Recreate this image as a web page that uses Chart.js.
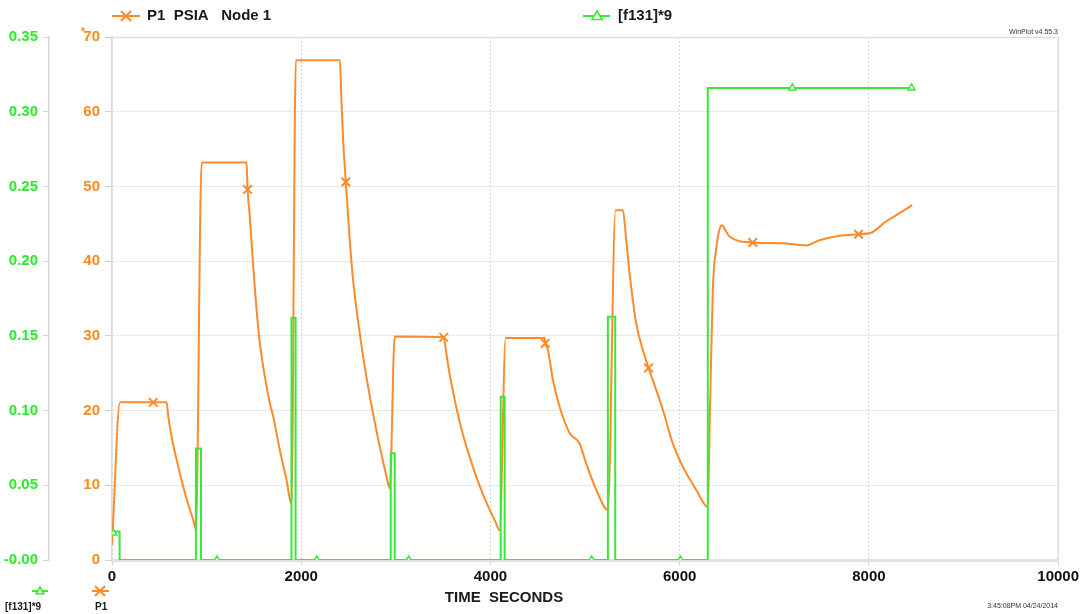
<!DOCTYPE html>
<html>
<head>
<meta charset="utf-8">
<title>P1 PSIA Node 1</title>
<script src="https://cdn.jsdelivr.net/npm/chart.js@4.4.1/dist/chart.umd.min.js"></script>
<style>
  html, body { margin: 0; padding: 0; background: #ffffff; }
  #wrap { width: 1082px; height: 614px; position: relative; }
</style>
</head>
<body>
<div id="wrap"><canvas id="c" width="1082" height="614"></canvas></div>
<script>
// ---- P1 pressure, node 1 (psia) ----
const p1Time = [
  0, 85, 436, 577, 595, 630, 683, 753, 824, 860, 887,
  947, 1422, 1433, 1457, 1492, 1528, 1563, 1616, 1668, 1704, 1774, 1845, 1897,
  1943, 2408, 2425, 2443, 2471, 2513, 2548, 2619, 2689, 2759, 2830, 2901, 2936,
  2988, 3506, 3530, 3560, 3600, 3650, 3700, 3780, 3860, 3940, 4000, 4050, 4097,
  4161, 4572, 4580, 4607, 4660, 4731, 4836, 4942, 5012, 5118, 5241,
  5322, 5400, 5435, 5470, 5540, 5611, 5671, 5751, 5822, 5927, 6033, 6174, 6297,
  6320, 6350, 6390, 6420, 6449, 6480, 6526, 6772, 7089, 7335, 7476, 7687, 7891,
  8022, 8180, 8321, 8458
];
const p1Psia = [
  2.0, 21.1, 21.1, 21.1, 19.2, 16.5, 13.4, 9.8, 6.7, 5.3, 4.1,
  53.2, 53.2, 49.6, 45.9, 39.3, 33.5, 29.0, 24.5, 21.0, 19.2, 14.7, 10.7, 7.4,
  66.9, 66.9, 61.6, 56.2, 50.6, 42.8, 37.5, 30.3, 24.5, 19.6, 15.2, 11.2, 9.6,
  29.9, 29.8, 28.0, 25.5, 22.8, 19.8, 17.2, 13.8, 10.8, 8.2, 6.5, 5.2, 4.0,
  29.7, 29.7, 29.0, 28.1, 24.1, 20.5, 17.0, 15.6, 12.9, 9.4, 6.7,
  46.8, 46.8, 42.8, 38.4, 31.7, 28.1, 25.7, 22.8, 20.1, 15.6, 12.5, 9.4, 7.1,
  20.0, 36.1, 42.0, 44.2, 44.8, 44.2, 43.3, 42.5, 42.4, 42.1, 42.8, 43.4, 43.6,
  43.8, 45.3, 46.4, 47.5
];
const p1MarkTimes = [436, 1433, 2471, 3506, 4580, 5671, 6772, 7891];

// ---- [f131]*9 ----
const f131Time = [
  0, 15, 25, 80, 80, 887, 887, 940, 940, 1109,
  1897, 1897, 1940, 1940, 2165, 2946, 2946, 2988, 2988, 3136,
  4108, 4108, 4150, 4150, 5069, 5241, 5241, 5319, 5319, 6008,
  6297, 6297, 7191, 8450
];
const f131Val = [
  0.016, 0.018, 0.019, 0.019, 0, 0, 0.0747, 0.0747, 0, 0,
  0, 0.1622, 0.1622, 0, 0, 0, 0.0714, 0.0714, 0, 0,
  0, 0.1093, 0.1093, 0, 0, 0, 0.1628, 0.1628, 0, 0,
  0, 0.3159, 0.3159, 0.3159
];
const f131MarkTimes = [15, 1109, 2165, 3136, 5069, 6008, 7191, 8450];

// ---- axis ticks ----
const timeTicks = [0, 2000, 4000, 6000, 8000, 10000];
const psiaTicks = [0, 10, 20, 30, 40, 50, 60, 70];
const f131Ticks = [0, 0.05, 0.10, 0.15, 0.20, 0.25, 0.30, 0.35];

const ORANGE = '#ff8a2a';
const ORANGE_TXT = '#ff8a1c';
const GREEN = '#38e838';
const GREEN_TXT = '#2aec2a';
const FONT = '"Liberation Sans", Arial, sans-serif';
const GRID = '#d6d6d6';

const toPoints = (xs, ys) => xs.map((x, i) => ({ x: x, y: ys[i] }));
const p1Marks = new Set(p1MarkTimes);
const f131Marks = new Set(f131MarkTimes);

function drawCross(ctx, x, y, r, color) {
  ctx.save();
  ctx.strokeStyle = color; ctx.lineWidth = 2;
  ctx.beginPath();
  ctx.moveTo(x - r, y - r); ctx.lineTo(x + r, y + r);
  ctx.moveTo(x - r, y + r); ctx.lineTo(x + r, y - r);
  ctx.stroke();
  ctx.restore();
}
function drawTri(ctx, x, y, r, color) {
  ctx.save();
  ctx.strokeStyle = color; ctx.fillStyle = '#ffffff'; ctx.lineWidth = 1.5;
  ctx.beginPath();
  ctx.moveTo(x, y - r); ctx.lineTo(x + r, y + r * 0.7); ctx.lineTo(x - r, y + r * 0.7);
  ctx.closePath(); ctx.fill(); ctx.stroke();
  ctx.restore();
}
function legendLine(ctx, x1, x2, y, color) {
  ctx.save();
  ctx.strokeStyle = color; ctx.lineWidth = 2;
  ctx.beginPath(); ctx.moveTo(x1, y); ctx.lineTo(x2, y); ctx.stroke();
  ctx.restore();
}

// frame, legends and stamps
const decor = {
  id: 'decor',
  beforeDatasetsDraw(chart) {
    const { ctx, chartArea: a } = chart;
    ctx.save();
    ctx.strokeStyle = '#dedede';
    ctx.lineWidth = 1.5;
    ctx.beginPath();
    ctx.moveTo(a.left, a.top + 0.5);
    ctx.lineTo(a.right, a.top + 0.5);
    ctx.moveTo(a.right, a.top);
    ctx.lineTo(a.right, a.bottom);
    ctx.stroke();
    ctx.restore();
  },
  afterDraw(chart) {
    const { ctx } = chart;
    const ds = chart.data.datasets;
    ctx.save();
    ctx.textBaseline = 'middle';

    // top legend
    legendLine(ctx, 112, 140, 16, ORANGE);
    drawCross(ctx, 126, 16, 5, ORANGE);
    ctx.fillStyle = '#1a1a1a';
    ctx.font = 'bold 15px ' + FONT;
    ctx.textAlign = 'left';
    ctx.fillText(ds[0].label, 147, 16);

    legendLine(ctx, 583, 610, 16, GREEN);
    drawTri(ctx, 597, 16, 5, GREEN);
    ctx.fillStyle = '#1a1a1a';
    ctx.fillText(ds[1].label, 618, 16);

    // bottom key
    legendLine(ctx, 32, 48, 591, GREEN);
    drawTri(ctx, 40, 591, 4, GREEN);
    legendLine(ctx, 92, 109, 591, ORANGE);
    drawCross(ctx, 100, 591, 5, ORANGE);
    ctx.fillStyle = '#1a1a1a';
    ctx.font = 'bold 10px ' + FONT;
    ctx.fillText('[f131]*9', 5, 607);
    ctx.fillText('P1', 95, 607);

    // axis title
    ctx.font = 'bold 15px ' + FONT;
    ctx.textAlign = 'center';
    ctx.fillText('TIME  SECONDS', 504, 598);

    // asterisk on the top pressure tick
    ctx.fillStyle = ORANGE_TXT;
    ctx.font = 'bold 11px ' + FONT;
    ctx.textAlign = 'right';
    ctx.fillText('*', 85, 32);

    // stamps
    ctx.fillStyle = '#333333';
    ctx.font = '7px ' + FONT;
    ctx.textAlign = 'right';
    ctx.fillText('WinPlot v4.55.3', 1058, 32);
    ctx.fillText('3:45:08PM 04/24/2014', 1058, 606);
    ctx.restore();
  }
};

new Chart(document.getElementById('c'), {
  type: 'line',
  data: {
    datasets: [
      {
        label: 'P1  PSIA   Node 1',
        data: toPoints(p1Time, p1Psia),
        yAxisID: 'yP',
        borderColor: ORANGE,
        borderWidth: 2,
        cubicInterpolationMode: 'monotone',
        pointStyle: 'crossRot',
        pointRadius: ctx => (p1Marks.has(ctx.raw && ctx.raw.x) ? 6 : 0),
        pointBorderColor: ORANGE,
        pointBorderWidth: 2,
        pointHoverRadius: 0,
        order: 1
      },
      {
        label: '[f131]*9',
        data: toPoints(f131Time, f131Val),
        yAxisID: 'yF',
        borderColor: GREEN,
        borderWidth: 2,
        tension: 0,
        pointStyle: 'triangle',
        pointRadius: ctx => (f131Marks.has(ctx.raw && ctx.raw.x) ? 4 : 0),
        pointBorderColor: GREEN,
        pointBackgroundColor: '#ffffff',
        pointBorderWidth: 1.5,
        pointHoverRadius: 0,
        order: 0
      }
    ]
  },
  options: {
    responsive: false,
    animation: false,
    devicePixelRatio: 1,
    events: [],
    layout: { padding: { top: 37, right: 23, bottom: 0, left: 0 } },
    plugins: { legend: { display: false }, tooltip: { enabled: false } },
    scales: {
      x: {
        type: 'linear',
        min: 0, max: 10000,
        afterBuildTicks: s => { s.ticks = timeTicks.map(v => ({ value: v })); },
        afterFit: s => { s.height = 54; },
        ticks: {
          color: '#111111',
          font: { family: FONT, size: 15, weight: 'bold' },
          padding: 3,
          maxRotation: 0,
          autoSkip: false,
          callback: v => String(v)
        },
        grid: { color: GRID, lineWidth: 1, tickLength: 5, tickColor: '#cfcfcf', tickBorderDash: [] },
        border: { display: true, color: '#e0e0e0', width: 3, dash: [2, 2] }
      },
      yP: {
        type: 'linear',
        position: 'left',
        weight: 0,
        min: 0, max: 70,
        afterBuildTicks: s => { s.ticks = psiaTicks.map(v => ({ value: v })); },
        afterFit: s => { s.width = 63; },
        ticks: {
          color: ORANGE_TXT,
          font: { family: FONT, size: 15, weight: 'bold' },
          padding: 5,
          callback: v => String(v)
        },
        grid: { color: GRID, lineWidth: 1, tickLength: 7, tickColor: '#cfcfcf', tickBorderDash: [] },
        border: { display: true, color: '#d8d8d8', width: 1.5, dash: [2, 2] }
      },
      yF: {
        type: 'linear',
        position: 'left',
        weight: 1,
        min: 0, max: 0.35,
        afterBuildTicks: s => { s.ticks = f131Ticks.map(v => ({ value: v })); },
        afterFit: s => { s.width = 49; },
        ticks: {
          color: GREEN_TXT,
          font: { family: FONT, size: 15, weight: 'bold' },
          padding: 5,
          callback: v => (v === 0 ? '-0.00' : v.toFixed(2))
        },
        grid: { drawOnChartArea: false, tickLength: 6, tickColor: '#cfcfcf', tickBorderDash: [] },
        border: { display: true, color: '#d8d8d8', width: 1.5 }
      }
    }
  },
  plugins: [decor]
});
</script>
</body>
</html>
